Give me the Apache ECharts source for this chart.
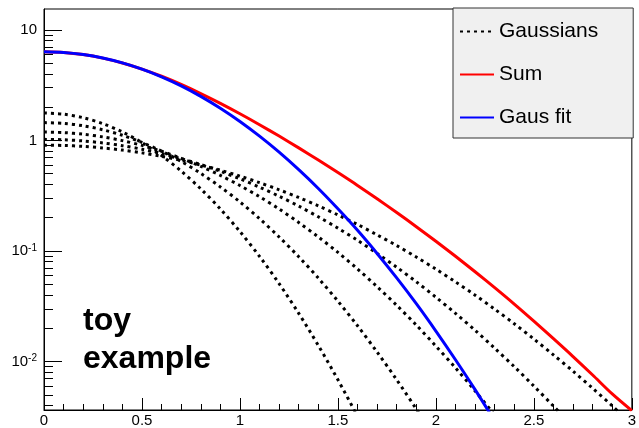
<!DOCTYPE html>
<html><head><meta charset="utf-8">
<script src="https://cdn.jsdelivr.net/npm/echarts@6/dist/echarts.min.js"></script>
<style>html,body{margin:0;padding:0;background:#fff}#c{width:639px;height:428px}</style>
</head><body><div id="c"></div>
<script>
const xs = [0,0.1,0.2,0.3,0.4,0.5,0.6,0.7,0.8,0.9,1.0,1.1,1.2,1.3,1.4,1.5,1.6,1.7,1.8,1.9,2.0,2.1,2.2,2.3,2.4,2.5,2.6,2.7,2.8,2.9,3.0];
const gauss1 = [1.773,1.730,1.606,1.420,1.194,0.956,0.729,0.529,0.365,0.240,0.150,0.0894,0.0507,0.0273,0.0140,0.00685,0.00319,0.00141];
const gauss2 = [1.451,1.427,1.358,1.250,1.114,0.960,0.800,0.646,0.504,0.380,0.278,0.196,0.134,0.0888,0.0569,0.0352,0.0211,0.0122,0.00685,0.00372,0.00195];
const gauss3 = [1.191,1.178,1.139,1.077,0.997,0.902,0.798,0.690,0.584,0.483,0.391,0.310,0.240,0.181,0.134,0.0972,0.0688,0.0476,0.0323,0.0214,0.0138,0.00877,0.00543,0.00329,0.00195];
const gauss4 = [1.023,1.015,0.990,0.950,0.897,0.833,0.761,0.684,0.605,0.526,0.450,0.378,0.313,0.255,0.204,0.161,0.125,0.0951,0.0714,0.0527,0.0382,0.0273,0.0192,0.0132,0.00900,0.00601,0.00396,0.00256,0.00163];
const gauss5 = [0.907,0.901,0.884,0.856,0.818,0.772,0.719,0.661,0.600,0.538,0.476,0.415,0.358,0.305,0.256,0.212,0.174,0.140,0.112,0.0882,0.0686,0.0526,0.0399,0.0298,0.0220,0.0160,0.0115,0.00819,0.00574,0.00398,0.00272];
const sumVals = [6.345,6.251,5.977,5.553,5.020,4.422,3.807,3.210,2.657,2.167,1.744,1.389,1.096,0.857,0.665,0.512,0.392,0.297,0.223,0.166,0.1226,0.0897,0.0650,0.0466,0.0331,0.0232,0.0161,0.0111,0.00756,0.0051,0.0036];
const fitVals = [6.35,6.258,5.991,5.571,5.032,4.415,3.762,3.114,2.504,1.956,1.484,1.093,0.783,0.544,0.368,0.241,0.154,0.0951,0.0571,0.0334,0.0189,0.0104,0.00558,0.00290,0.00147];
const yMajorTicks = [0.01,0.1,1,10];
const yMinorTicks = [0.004,0.005,0.006,0.007,0.008,0.009,0.02,0.03,0.04,0.05,0.06,0.07,0.08,0.09,0.2,0.3,0.4,0.5,0.6,0.7,0.8,0.9,2,3,4,5,6,7,8,9];
const legendNames = ['Gaussians','Sum','Gaus fit'];
const noteText = 'toy\nexample';

const FONT = '"Liberation Sans", Arial, Helvetica, sans-serif';
const YMIN = 0.00365, YMAX = 15.45;
function pairs(vals){ return vals.map((v,i)=>[xs[i], v]); }
const gaussList = [gauss1, gauss2, gauss3, gauss4, gauss5];

const series = gaussList.map(g => ({
  name: legendNames[0], type: 'line', yAxisIndex: 0, data: pairs(g),
  symbol: 'none', showSymbol: false, smooth: 0.3, clip: true,
  itemStyle: { color: '#000' },
  lineStyle: { color: '#000', width: 3, type: [3, 4], cap: 'butt' }, z: 2
}));
series.push({
  name: legendNames[1], type: 'line', yAxisIndex: 0, data: pairs(sumVals),
  symbol: 'none', showSymbol: false, smooth: 0.3, clip: true,
  itemStyle: { color: '#ff0000' },
  lineStyle: { color: '#ff0000', width: 3 }, z: 3
});
series.push({
  name: legendNames[2], type: 'line', yAxisIndex: 0, data: pairs(fitVals),
  symbol: 'none', showSymbol: false, smooth: 0.3, clip: true,
  itemStyle: { color: '#0000ff' },
  lineStyle: { color: '#0000ff', width: 3 }, z: 4
});

const chart = echarts.init(document.getElementById('c'), null, { renderer: 'canvas' });
chart.setOption({
  animation: false,
  backgroundColor: '#fff',
  grid: { left: 44, right: 1, top: 9, bottom: 16, show: true, borderColor: '#000', borderWidth: 1, backgroundColor: 'transparent' },
  xAxis: {
    type: 'value', min: 0, max: 3, interval: 0.5,
    axisLine: { show: true, onZero: false, lineStyle: { color: '#000', width: 1 } },
    axisTick: { show: true, inside: true, length: 12, lineStyle: { color: '#000' } },
    minorTick: { show: true, splitNumber: 5, length: 6, lineStyle: { color: '#000' } },
    splitLine: { show: false },
    axisLabel: { color: '#000', fontSize: 15, fontFamily: FONT, margin: 3, showMinLabel: true, showMaxLabel: true,
      formatter: v => String(v) }
  },
  yAxis: [{
    type: 'log', logBase: 10, min: YMIN, max: YMAX,
    axisLine: { show: true, onZero: false, lineStyle: { color: '#000', width: 1 } },
    axisTick: { show: true, inside: true, length: 18, customValues: yMajorTicks, lineStyle: { color: '#000' } },
    splitLine: { show: false },
    axisLabel: {
      customValues: yMajorTicks, color: '#000', fontSize: 15, fontFamily: FONT, margin: 7,
      formatter: v => {
        const e = Math.round(Math.log10(v));
        if (e === 1) return '10';
        if (e === 0) return '1';
        return '10{s|' + e + '}';
      },
      rich: { s: { fontSize: 10, fontFamily: FONT, color: '#000', verticalAlign: 'top', padding: [0, 0, 6, 0] } }
    }
  }, {
    type: 'log', logBase: 10, min: YMIN, max: YMAX, position: 'left',
    axisLine: { show: false },
    axisTick: { show: true, inside: true, length: 9, customValues: yMinorTicks, lineStyle: { color: '#000' } },
    axisLabel: { show: false },
    splitLine: { show: false }
  }],
  legend: {
    data: legendNames, orient: 'vertical', left: 453, top: 8,
    padding: [13, 35, 10, 6], itemWidth: 34, itemHeight: 20, itemGap: 22,
    backgroundColor: '#f0f0f0', borderColor: '#333', borderWidth: 1, borderRadius: 0,
    itemStyle: { opacity: 0 },
    textStyle: { fontSize: 21, color: '#000', fontFamily: FONT },
    selectedMode: false
  },
  graphic: [{
    type: 'text', left: 83, top: 302, z: 10,
    style: { text: noteText, font: 'bold 32px ' + FONT, fill: '#000', lineHeight: 38 }
  }],
  series: series
});
</script>
</body></html>
